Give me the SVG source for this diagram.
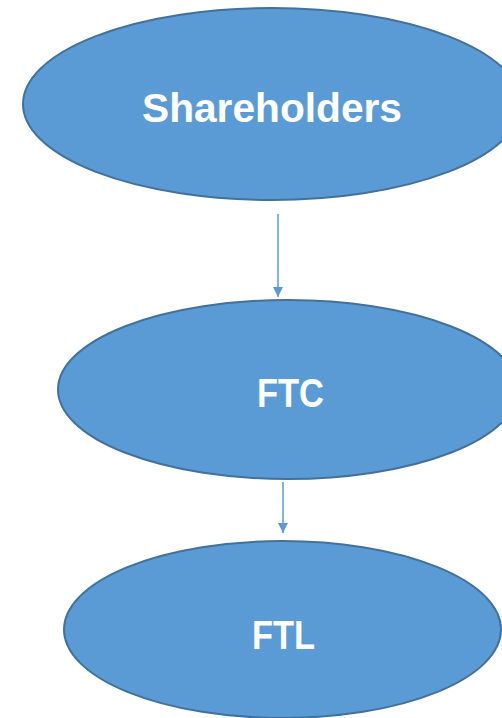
<svg xmlns="http://www.w3.org/2000/svg" width="502" height="718" viewBox="0 0 502 718">
<style>
.node ellipse{fill:#5B9BD5;stroke:#41719C;stroke-width:2}
.node text{fill:#fff;font-family:"Liberation Sans",Arial,sans-serif;font-weight:bold;font-size:41px;text-anchor:middle}
.edge{stroke:#5B9BD5;stroke-width:1.5;fill:none}
</style>
<defs>
<marker id="ah" viewBox="0 0 10 10" refX="10" refY="5" markerWidth="10" markerHeight="12" markerUnits="userSpaceOnUse" orient="auto">
<path d="M0,0 L10,5 L0,10 Z" fill="#5B9BD5"/>
</marker>
</defs>
<rect width="502" height="718" fill="#fff"/>
<g id="connectors">
<line class="edge" x1="278" y1="214" x2="278" y2="297" marker-end="url(#ah)"/>
<line class="edge" x1="283" y1="482" x2="283" y2="533" marker-end="url(#ah)"/>
</g>
<g id="shareholders" class="node">
<ellipse cx="272" cy="104" rx="249" ry="96"/>
<text x="272" y="122" textLength="260" lengthAdjust="spacingAndGlyphs">Shareholders</text>
</g>
<g id="ftc" class="node">
<ellipse cx="288" cy="389.5" rx="230" ry="89.5"/>
<text x="290.5" y="407" textLength="67" lengthAdjust="spacingAndGlyphs">FTC</text>
</g>
<g id="ftl" class="node">
<ellipse cx="282.5" cy="629.5" rx="218.5" ry="88.5"/>
<text x="283.5" y="649" textLength="63" lengthAdjust="spacingAndGlyphs">FTL</text>
</g>
</svg>
